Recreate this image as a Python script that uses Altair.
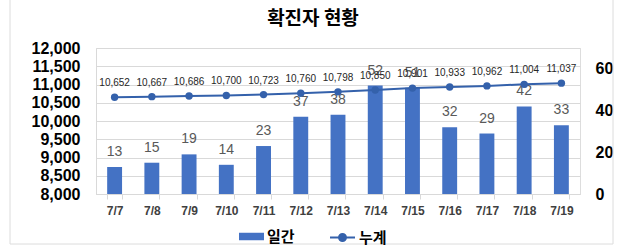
import altair as alt
import pandas as pd

dates = ["7/7", "7/8", "7/9", "7/10", "7/11", "7/12", "7/13", "7/14", "7/15", "7/16", "7/17", "7/18", "7/19"]
daily = [13, 15, 19, 14, 23, 37, 38, 52, 51, 32, 29, 42, 33]
cumulative = [10652, 10667, 10686, 10700, 10723, 10760, 10798, 10850, 10901, 10933, 10962, 11004, 11037]
left_ticks = [8000, 8500, 9000, 9500, 10000, 10500, 11000, 11500, 12000]
right_ticks = [0, 20, 40, 60]

df = pd.DataFrame({"date": dates, "daily": daily, "cum": cumulative,
                   "s1": ["일간"] * len(dates), "s2": ["누계"] * len(dates)})

BAR = "#4472C4"
LINE = "#3461AB"
NUM_FONT = "Liberation Sans"
KR_FONT = "Noto Sans CJK KR"

x = alt.X("date:N", sort=dates, title=None,
          scale=alt.Scale(paddingInner=0.6, paddingOuter=0.3),
          axis=alt.Axis(labelAngle=0, labelFont=NUM_FONT, labelFontSize=12, labelFontWeight="bold",
                        labelColor="#404040", tickBand="extent", tickColor="#d9d9d9", tickSize=5,
                        domainColor="#d9d9d9", labelPadding=6))

frame = alt.Chart(pd.DataFrame({"a": [0]})).mark_rect(fill="transparent", stroke="#dcdcdc", strokeWidth=1).encode(
    x=alt.value(-86), x2=alt.value(517), y=alt.value(-49), y2=alt.value(196))

yb_axis = alt.Axis(orient="right", values=right_ticks, ticks=False, domain=False, grid=False,
                   labelFont=NUM_FONT, labelFontSize=16, labelFontWeight="bold",
                   labelColor="#000000", labelPadding=15)
yb_scale = alt.Scale(domain=[0, 70], nice=False)
yb = alt.Y("daily:Q", title=None, scale=yb_scale, axis=yb_axis)

bars = alt.Chart(df).mark_bar(color=BAR).encode(
    x=x, y=yb,
    color=alt.Color("s1:N", scale=alt.Scale(domain=["일간"], range=[BAR]),
                    legend=alt.Legend(title=None, orient="none", legendX=143, legendY=176,
                                      symbolType="M-1,-0.3L1,-0.3L1,0.3L-1,0.3Z", symbolSize=625,
                                      symbolStrokeWidth=0, labelFont=KR_FONT, labelFontSize=15,
                                      labelFontWeight="bold", labelColor="#000000", labelOffset=3)))
bar_text = alt.Chart(df).mark_text(baseline="alphabetic", dy=-11, font=NUM_FONT, fontSize=14,
                                   color="#595959").encode(
    x=x, y=yb, text=alt.Text("daily:Q"))
bar_layer = alt.layer(bars, bar_text)

yl_axis = alt.Axis(orient="left", values=left_ticks, format=",.0f", ticks=False, domain=True,
                   domainColor="#d9d9d9", grid=True, gridColor="#d9d9d9",
                   labelFont=NUM_FONT, labelFontSize=16, labelFontWeight="bold",
                   labelColor="#000000", labelPadding=16)
yl_scale = alt.Scale(domain=[8000, 12000], nice=False)
yl = alt.Y("cum:Q", title=None, scale=yl_scale, axis=yl_axis)

line = alt.Chart(df).mark_line(strokeWidth=2, point=alt.OverlayMarkDef(size=55, filled=True, opacity=1)).encode(
    x=x, y=yl,
    color=alt.Color("s2:N", scale=alt.Scale(domain=["누계"], range=[LINE]),
                    legend=alt.Legend(title=None, orient="none", legendX=233, legendY=176,
                                      symbolType="M-1,0L1,0M-0.28,0A0.28,0.28 0 1,1 0.28,0A0.28,0.28 0 1,1 -0.28,0Z",
                                      symbolSize=625, symbolStrokeWidth=2, symbolFillColor=LINE,
                                      symbolStrokeColor=LINE,
                                      labelFont=KR_FONT, labelFontSize=15,
                                      labelFontWeight="bold", labelColor="#000000", labelOffset=3)))
line_text = alt.Chart(df).mark_text(baseline="alphabetic", dy=-11, font=NUM_FONT, fontSize=10,
                                    color="#262626").encode(
    x=x, y=yl, text=alt.Text("cum:Q", format=","))
line_layer = alt.layer(line, line_text)

chart = alt.layer(frame, bar_layer, line_layer).resolve_scale(
    y="independent", color="independent"
).properties(
    width=484, height=146,
    title=alt.TitleParams("확진자 현황", font=KR_FONT, fontSize=19, fontWeight="bold",
                          color="#000000", anchor="middle", dx=-25, offset=-30),
    autosize=alt.AutoSizeParams(type="none"),
    padding={"left": 96, "top": 48, "right": 58, "bottom": 58},
).configure_view(stroke=None).configure(background="white")

chart.save("out.html", embed_options={"renderer": "svg", "actions": False})
